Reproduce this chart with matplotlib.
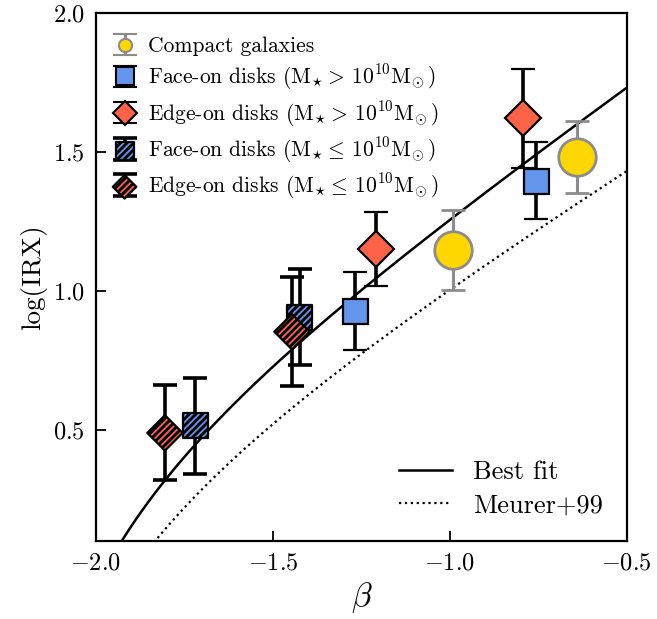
import numpy as np
import matplotlib
matplotlib.use("Agg")
import matplotlib.pyplot as plt
from matplotlib.legend_handler import HandlerTuple

plt.rcParams['font.family'] = 'serif'
plt.rcParams['font.serif'] = ['cmr10']
plt.rcParams['mathtext.fontset'] = 'cm'
plt.rcParams['axes.formatter.use_mathtext'] = True
plt.rcParams['hatch.linewidth'] = 1.3

# compact galaxies
compact_beta = [-0.99, -0.64]
compact_irx = [1.147, 1.482]
compact_err = [0.145, 0.128]

# face-on disks, M > 1e10
face_hi_beta = [-1.268, -0.757]
face_hi_irx = [0.928, 1.396]
face_hi_err = [0.14, 0.139]

# edge-on disks, M > 1e10
edge_hi_beta = [-1.209, -0.794]
edge_hi_irx = [1.151, 1.622]
edge_hi_err = [0.133, 0.178]

# face-on disks, M <= 1e10
face_lo_beta = [-1.720, -1.424]
face_lo_irx = [0.514, 0.906]
face_lo_err = [0.172, 0.171]

# edge-on disks, M <= 1e10
edge_lo_beta = [-1.805, -1.446]
edge_lo_irx = [0.489, 0.853]
edge_lo_err = [0.171, 0.196]

# relation log(IRX) = log10(10^(0.4*(a + b*beta)) - 1) + c
fit_pars = (4.99, 2.26, 0.20)
meurer_pars = (4.43, 1.99, 0.076)

blue = '#6495ED'
red = '#FF6347'
gold = '#FFD700'
grey = '#8C8C8C'


def irx_curve(beta, a, b, c):
    v = 10 ** (0.4 * (a + b * beta)) - 1
    out = np.full_like(beta, np.nan)
    ok = v > 0
    out[ok] = np.log10(v[ok]) + c
    return out


def hatched(ax, x, y, marker, size, color, zorder=5):
    # coloured hatch on black, then a black outline on top
    h1 = ax.scatter(x, y, marker=marker, s=size ** 2, facecolor='black',
                    edgecolor=color, linewidths=0, hatch='/////', zorder=zorder)
    h2 = ax.scatter(x, y, marker=marker, s=size ** 2, facecolor='none',
                    edgecolor='black', linewidths=1.6, zorder=zorder)
    return h1, h2


fig = plt.figure(figsize=(6.57, 6.19), dpi=100)
ax = fig.add_axes([0.146, 0.126, 0.808, 0.853])

beta = np.linspace(-2.0, -0.5, 400)
ax.plot(beta, irx_curve(beta, *fit_pars), color='black', lw=1.8, zorder=2)
ax.plot(beta, irx_curve(beta, *meurer_pars), color='black', lw=1.6, ls=':', zorder=2)

elw = 2.6
cap = 8.3
eb = dict(fmt='none', ecolor='black', elinewidth=elw, capsize=cap, capthick=elw, zorder=3)

# hatched low-mass points
ax.errorbar(face_lo_beta, face_lo_irx, yerr=face_lo_err, **eb)
ax.errorbar(edge_lo_beta, edge_lo_irx, yerr=edge_lo_err, **eb)
hatched(ax, face_lo_beta, face_lo_irx, 's', 18, blue, zorder=4)
hatched(ax, edge_lo_beta, edge_lo_irx, 'D', 18, red, zorder=5)

# filled high-mass points
ax.errorbar(face_hi_beta, face_hi_irx, yerr=face_hi_err, fmt='s', ms=18, mfc=blue,
            mec='black', mew=1.6, ecolor='black', elinewidth=elw, capsize=cap,
            capthick=elw, zorder=4)
ax.errorbar(edge_hi_beta, edge_hi_irx, yerr=edge_hi_err, fmt='D', ms=18, mfc=red,
            mec='black', mew=1.6, ecolor='black', elinewidth=elw, capsize=cap,
            capthick=elw, zorder=4)

# compact galaxies
ax.errorbar(compact_beta, compact_irx, yerr=compact_err, fmt='o', ms=27, mfc=gold,
            mec=grey, mew=2.0, ecolor=grey, elinewidth=2.2, capsize=cap,
            capthick=2.2, zorder=4)

# legend proxies (smaller markers than the data)
nan = [np.nan]
h_comp = ax.errorbar(nan, nan, yerr=[0.1], fmt='o', ms=9.5, mfc=gold, mec=grey, mew=1.5,
                     ecolor=grey, elinewidth=2.2, capsize=cap, capthick=2.2)
h_face = ax.errorbar(nan, nan, yerr=[0.1], fmt='s', ms=13, mfc=blue, mec='black', mew=1.5,
                     ecolor='black', elinewidth=elw, capsize=cap, capthick=elw)
h_edge = ax.errorbar(nan, nan, yerr=[0.1], fmt='D', ms=12, mfc=red, mec='black', mew=1.5,
                     ecolor='black', elinewidth=elw, capsize=cap, capthick=elw)
h_eb = ax.errorbar(nan, nan, yerr=[0.1], fmt='none', ecolor='black', elinewidth=elw,
                   capsize=cap, capthick=elw)
h_face_lo = hatched(ax, nan, nan, 's', 13, blue)
h_edge_lo = hatched(ax, nan, nan, 'D', 12, red)

mhi = r'$\mathrm{M}_{\!\star\!}{>}\,10^{10}\mathrm{M}_{\!\odot}$'
mlo = r'$\mathrm{M}_{\!\star\!}{\leq}\,10^{10}\mathrm{M}_{\!\odot}$'
labels = ['Compact galaxies',
          'Face-on disks (' + mhi + ')',
          'Edge-on disks (' + mhi + ')',
          'Face-on disks (' + mlo + ')',
          'Edge-on disks (' + mlo + ')']
leg1 = ax.legend([h_comp, h_face, h_edge, (h_eb,) + h_face_lo, (h_eb,) + h_edge_lo], labels,
                 loc='upper left', bbox_to_anchor=(-0.017, 1.0), frameon=False,
                 fontsize=15.5, handlelength=1.3, handletextpad=0.45, labelspacing=0.3,
                 borderaxespad=0.7, scatterpoints=1,
                 handler_map={tuple: HandlerTuple(ndivide=1)})
ax.add_artist(leg1)

fit_line, = ax.plot([], [], color='black', lw=1.8)
meu_line, = ax.plot([], [], color='black', lw=1.6, ls=':')
ax.legend([fit_line, meu_line], ['Best fit', 'Meurer+99'], loc='lower right',
          frameon=False, fontsize=19, handlelength=2.0, labelspacing=0.35)

ax.set_xlim(-2.0, -0.5)
ax.set_ylim(0.1, 2.0)
ax.set_xticks([-2.0, -1.5, -1.0, -0.5])
ax.set_yticks([0.5, 1.0, 1.5, 2.0])
ax.tick_params(direction='in', length=7, width=1.3, labelsize=17.5, pad=8)
for s in ax.spines.values():
    s.set_linewidth(1.6)
ax.set_xlabel(r'$\beta$', fontsize=24)
ax.set_ylabel('log(IRX)', fontsize=19.5)

fig.savefig('out.png', dpi=100)
